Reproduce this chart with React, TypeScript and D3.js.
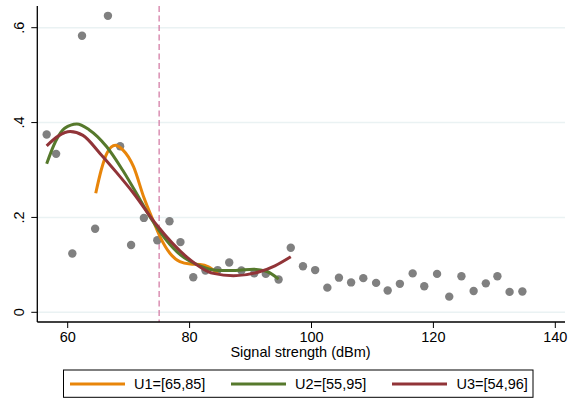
import React from "react";
import * as d3 from "d3";

const pointX = [56.55, 58.1, 60.76, 62.35, 64.5, 66.6, 68.6, 70.4, 72.5, 74.7, 76.7, 78.5, 80.6, 82.6, 84.6, 86.5, 88.5, 90.6, 92.5, 94.6, 96.6, 98.6, 100.6, 102.6, 104.5, 106.5, 108.5, 110.6, 112.5, 114.5, 116.6, 118.5, 120.6, 122.6, 124.6, 126.6, 128.6, 130.5, 132.5, 134.6];
const pointY = [0.375, 0.334, 0.124, 0.583, 0.176, 0.625, 0.35, 0.142, 0.199, 0.152, 0.192, 0.148, 0.074, 0.088, 0.089, 0.105, 0.088, 0.082, 0.081, 0.069, 0.136, 0.097, 0.089, 0.052, 0.073, 0.063, 0.072, 0.062, 0.046, 0.06, 0.082, 0.055, 0.081, 0.033, 0.076, 0.045, 0.061, 0.076, 0.043, 0.044];

const u1X = [64.6, 65.5, 66.5, 67.8, 69, 70.8, 72.5, 74.1, 75.2, 76.8, 78.4, 80.1, 81.7, 83.1, 84.6];
const u1Y = [0.251, 0.3, 0.337, 0.352, 0.343, 0.307, 0.242, 0.191, 0.158, 0.124, 0.107, 0.102, 0.101, 0.096, 0.082];
const u2X = [56.55, 58, 59.5, 61.5, 63.5, 66.4, 69, 71.9, 73.8, 76, 78.5, 81.7, 84.9, 87.5, 90.5, 92.7, 94.6];
const u2Y = [0.313, 0.36, 0.388, 0.397, 0.385, 0.349, 0.3, 0.237, 0.195, 0.155, 0.121, 0.098, 0.088, 0.088, 0.091, 0.086, 0.07];
const u3X = [56.55, 58.5, 60.4, 62.5, 65.3, 68, 70.8, 74.6, 79.5, 83.9, 87.2, 91.6, 94, 96.6];
const u3Y = [0.351, 0.372, 0.381, 0.373, 0.335, 0.295, 0.251, 0.184, 0.117, 0.082, 0.077, 0.086, 0.098, 0.117];

const seriesNames = ["U1=[65,85]", "U2=[55,95]", "U3=[54,96]"];
const seriesColors = ["#e8850a", "#56792c", "#913438"];
const xTicks = [60, 80, 100, 120, 140];
const yTicks = [0, 0.2, 0.4, 0.6];
const yTickLabels = ["0", ".2", ".4", ".6"];
const cutoff = 75;
const xTitle = "Signal strength (dBm)";

const FONT = "'Liberation Sans', Arial, sans-serif";

export default function App() {
  const x = d3.scaleLinear().domain([60, 140]).range([67.7, 555.3]);
  const y = d3.scaleLinear().domain([0, 0.6]).range([312.3, 27.7]);
  const left = 37.3, right = 565, top = 6, bottom = 322;

  const series = [
    { xs: u1X, ys: u1Y },
    { xs: u2X, ys: u2Y },
    { xs: u3X, ys: u3Y },
  ];
  const line = d3
    .line<[number, number]>()
    .x((d) => x(d[0]))
    .y((d) => y(d[1]))
    .curve(d3.curveMonotoneX);

  const legendItems = [
    { lx: 70, tx: 134 },
    { lx: 231, tx: 295 },
    { lx: 392, tx: 456.5 },
  ];

  return (
    <svg width={568} height={400} style={{ position: "absolute", left: 0, top: 0, background: "#fff" }} fontFamily={FONT}>
      <rect x={0} y={0} width={568} height={400} fill="#fff" />
      {yTicks.map((t) => (
        <line key={"g" + t} x1={left} x2={right} y1={y(t)} y2={y(t)} stroke="#eaf2f3" strokeWidth={1.5} />
      ))}
      <line x1={x(cutoff)} x2={x(cutoff)} y1={top} y2={bottom} stroke="#d1739f" strokeWidth={1.2} strokeDasharray="6,3.5" />
      {pointX.map((px, i) => (
        <circle key={"p" + i} cx={x(px)} cy={y(pointY[i])} r={4.2} fill="#808080" />
      ))}
      {series.map((s, i) => (
        <path
          key={"s" + i}
          d={line(s.xs.map((v, j) => [v, s.ys[j]] as [number, number])) || ""}
          fill="none"
          stroke={seriesColors[i]}
          strokeWidth={3}
        />
      ))}
      <line x1={left} x2={left} y1={top} y2={bottom} stroke="#000" strokeWidth={1.3} />
      <line x1={left} x2={right} y1={bottom} y2={bottom} stroke="#000" strokeWidth={1.3} />
      {yTicks.map((t, i) => (
        <g key={"yt" + t}>
          <line x1={left - 6} x2={left} y1={y(t)} y2={y(t)} stroke="#000" strokeWidth={1} />
          <text
            transform={`translate(23.5,${y(t)}) rotate(-90)`}
            textAnchor="middle"
            fontSize={14.5}
            fill="#000"
          >
            {yTickLabels[i]}
          </text>
        </g>
      ))}
      {xTicks.map((t) => (
        <g key={"xt" + t}>
          <line x1={x(t)} x2={x(t)} y1={bottom} y2={bottom + 6} stroke="#000" strokeWidth={1} />
          <text x={x(t)} y={341.5} textAnchor="middle" fontSize={14.5} fill="#000">
            {t}
          </text>
        </g>
      ))}
      <text x={300.5} y={357} textAnchor="middle" fontSize={14.5} fill="#000">
        {xTitle}
      </text>
      <rect x={63.5} y={370} width={469.5} height={27.3} fill="#fff" stroke="#000" strokeWidth={1} />
      {legendItems.map((it, i) => (
        <g key={"l" + i}>
          <line x1={it.lx} x2={it.lx + 55} y1={384} y2={384} stroke={seriesColors[i]} strokeWidth={3} />
          <text x={it.tx} y={389} fontSize={14.5} fill="#000">
            {seriesNames[i]}
          </text>
        </g>
      ))}
    </svg>
  );
}
